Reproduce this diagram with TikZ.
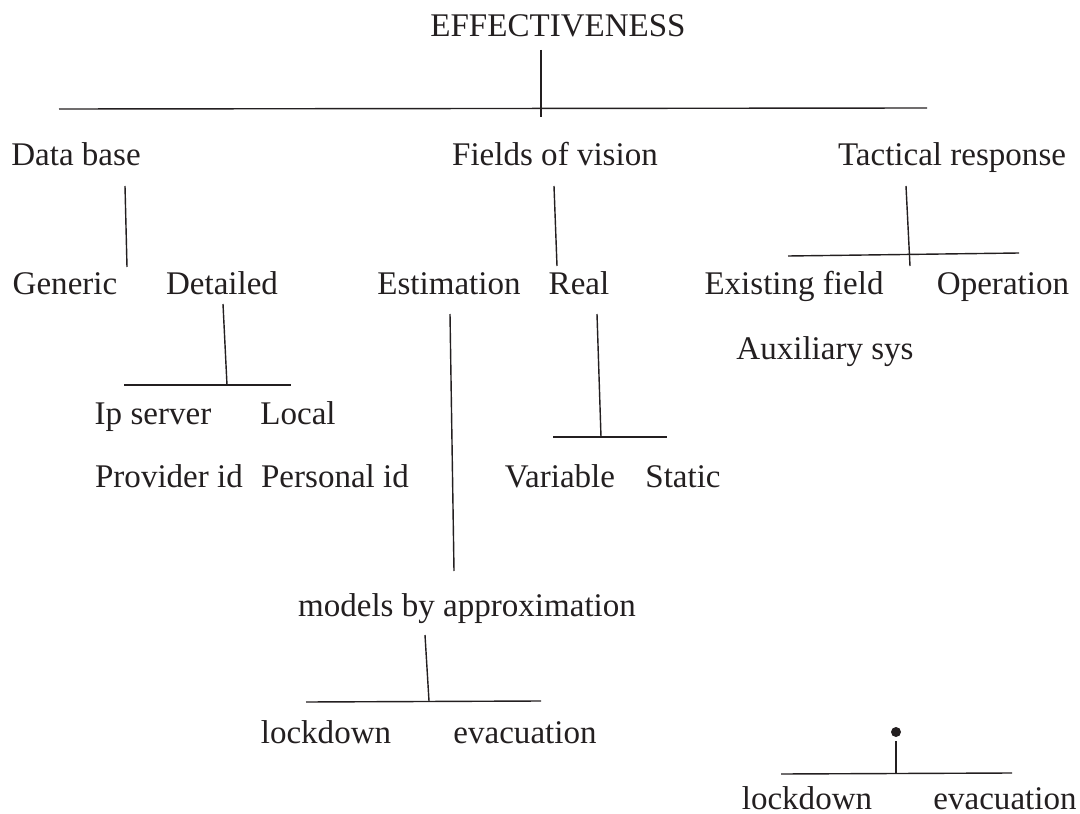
\documentclass[tikz,border=0pt]{standalone}
\usepackage{fontspec}
\setmainfont{Liberation Serif}
\definecolor{ink}{HTML}{231F20}

\begin{document}
\begin{tikzpicture}[x=0.025cm, y=-0.025cm,
    lbl/.style={anchor=base, inner sep=0pt, text=ink, font=\fontsize{23.5}{28}\selectfont},
    bar/.style={draw=ink, line width=1pt}]
    \useasboundingbox (0,0) rectangle (1080,814);

    % labels
    \node[lbl] (eff) at (558,37) {EFFECTIVENESS};
    \node[lbl] (db) at (76,166) {Data base};
    \node[lbl] (fov) at (555,166) {Fields of vision};
    \node[lbl] (tr) at (952,166) {Tactical response};
    \node[lbl] (gen) at (65,295) {Generic};
    \node[lbl] (det) at (222,295) {Detailed};
    \node[lbl] (est) at (449,295) {Estimation};
    \node[lbl] (real) at (579,295) {Real};
    \node[lbl] (exf) at (794,295) {Existing field};
    \node[lbl] (oper) at (1003,295) {Operation};
    \node[lbl] (aux) at (825,359) {Auxiliary sys};
    \node[lbl] (ip) at (153,424) {Ip server};
    \node[lbl] (loc) at (298,424) {Local};
    \node[lbl] (prov) at (169,487) {Provider id};
    \node[lbl] (pers) at (335,487) {Personal id};
    \node[lbl] (var) at (560,487) {Variable};
    \node[lbl] (stat) at (683,487) {Static};
    \node[lbl] (mba) at (467,616) {models by approximation};
    \node[lbl] (lockA) at (326,743) {lockdown};
    \node[lbl] (evacA) at (525,743) {evacuation};
    \node[lbl] (lockB) at (807,809) {lockdown};
    \node[lbl] (evacB) at (1005,809) {evacuation};

    % stem and bar end points
    \coordinate (effS) at (541,50);   \coordinate (effE) at (541,117);
    \coordinate (topL) at (59,109);   \coordinate (topR) at (927,108);
    \coordinate (dbS) at (125,186);   \coordinate (dbE) at (127,267);
    \coordinate (fovS) at (554,186);  \coordinate (fovE) at (557,266);
    \coordinate (trS) at (906,186);   \coordinate (trE) at (910,266);
    \coordinate (trL) at (788,256);   \coordinate (trR) at (1019,253);
    \coordinate (detS) at (223,304);  \coordinate (detE) at (227,385);
    \coordinate (detL) at (124,385);  \coordinate (detR) at (291,385);
    \coordinate (estS) at (450,314);  \coordinate (estE) at (454,571);
    \coordinate (realS) at (597,314); \coordinate (realE) at (601,437);
    \coordinate (realL) at (553,437); \coordinate (realR) at (667,437);
    \coordinate (mbaS) at (425,635);  \coordinate (mbaE) at (429,701);
    \coordinate (mbaL) at (306,702);  \coordinate (mbaR) at (541,701);
    \coordinate (dotS) at (896,741);  \coordinate (dotE) at (896,774);
    \coordinate (botL) at (781,774);  \coordinate (botR) at (1012,773);

    \draw[bar] (effS) -- (effE);
    \draw[bar] (topL) -- (topR);
    \draw[bar] (dbS) -- (dbE);
    \draw[bar] (fovS) -- (fovE);
    \draw[bar] (trS) -- (trE);
    \draw[bar] (trL) -- (trR);
    \draw[bar] (detS) -- (detE);
    \draw[bar] (detL) -- (detR);
    \draw[bar] (estS) -- (estE);
    \draw[bar] (realS) -- (realE);
    \draw[bar] (realL) -- (realR);
    \draw[bar] (mbaS) -- (mbaE);
    \draw[bar] (mbaL) -- (mbaR);
    \node[circle, fill=ink, inner sep=0pt, minimum size=10*0.025cm] (dot) at (896,732) {};
    \draw[bar] (dotS) -- (dotE);
    \draw[bar] (botL) -- (botR);
\end{tikzpicture}
\end{document}
